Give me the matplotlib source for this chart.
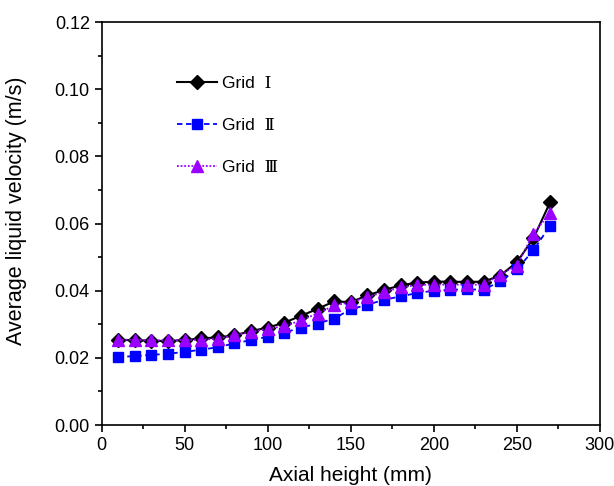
import matplotlib
matplotlib.use("Agg")
import matplotlib.pyplot as plt
from matplotlib.ticker import MultipleLocator, FormatStrFormatter

plt.rcParams['font.family'] = ['Liberation Sans', 'DejaVu Serif']

height = [10, 20, 30, 40, 50, 60, 70, 80, 90, 100, 110, 120, 130, 140, 150, 160, 170,
          180, 190, 200, 210, 220, 230, 240, 250, 260, 270]
grid1 = [0.0254, 0.0252, 0.0251, 0.0250, 0.0253, 0.0258, 0.0261, 0.0267, 0.0280, 0.0290,
         0.0305, 0.0325, 0.0346, 0.0368, 0.0366, 0.0386, 0.0402, 0.0416, 0.0424, 0.0427,
         0.0427, 0.0426, 0.0427, 0.0445, 0.0485, 0.0556, 0.0663]
grid2 = [0.0203, 0.0205, 0.0209, 0.0212, 0.0218, 0.0224, 0.0232, 0.0243, 0.0253, 0.0263,
         0.0275, 0.0290, 0.0302, 0.0317, 0.0345, 0.0358, 0.0373, 0.0383, 0.0393, 0.0400,
         0.0403, 0.0404, 0.0403, 0.0428, 0.0464, 0.0520, 0.0594]
grid3 = [0.0254, 0.0254, 0.0252, 0.0252, 0.0254, 0.0254, 0.0257, 0.0267, 0.0277, 0.0287,
         0.0294, 0.0312, 0.0332, 0.0356, 0.0366, 0.0381, 0.0396, 0.0410, 0.0417, 0.0418,
         0.0418, 0.0418, 0.0418, 0.0448, 0.0475, 0.0570, 0.0632]
labels = ["Grid  \u2160", "Grid  \u2161", "Grid  \u2162"]

fig = plt.figure(figsize=(6.14, 4.86), dpi=100)
ax = fig.add_axes([0.1655, 0.1255, 0.8115, 0.829])

ax.plot(height, grid1, color='black', linestyle='-', linewidth=1.5, marker='D',
        markersize=7, markerfacecolor='black', markeredgecolor='black', label=labels[0], zorder=3)
ax.plot(height, grid2, color='#0000FF', linestyle=(0, (3, 2)), linewidth=1.3, marker='s',
        markersize=7.5, markerfacecolor='#0000FF', markeredgecolor='#0000FF', label=labels[1], zorder=4)
ax.plot(height, grid3, color='#9900FF', linestyle=(0, (1, 1)), linewidth=1.3, marker='^',
        markersize=9, markerfacecolor='#9900FF', markeredgecolor='#9900FF', label=labels[2], zorder=5)

ax.set_xlim(0, 300)
ax.set_ylim(0, 0.12)
ax.xaxis.set_major_locator(MultipleLocator(50))
ax.xaxis.set_minor_locator(MultipleLocator(25))
ax.yaxis.set_major_locator(MultipleLocator(0.02))
ax.yaxis.set_minor_locator(MultipleLocator(0.01))
ax.yaxis.set_major_formatter(FormatStrFormatter('%.2f'))
ax.tick_params(which='both', direction='out', top=False, right=False, labelsize=13, width=1.2)
ax.tick_params(which='major', length=5)
ax.tick_params(which='minor', length=3)
for s in ax.spines.values():
    s.set_linewidth(1.2)

ax.set_xlabel("Axial height (mm)", fontsize=15, labelpad=9)
ax.set_ylabel("Average liquid velocity (m/s)", fontsize=15.5)
ax.yaxis.set_label_coords(-0.15, 0.533)

leg = ax.legend(loc='upper left', bbox_to_anchor=(0.12, 0.905), frameon=False, fontsize=12.5,
                labelspacing=1.55, handlelength=2.3, handletextpad=0.3)

fig.savefig("out.png", dpi=100)
